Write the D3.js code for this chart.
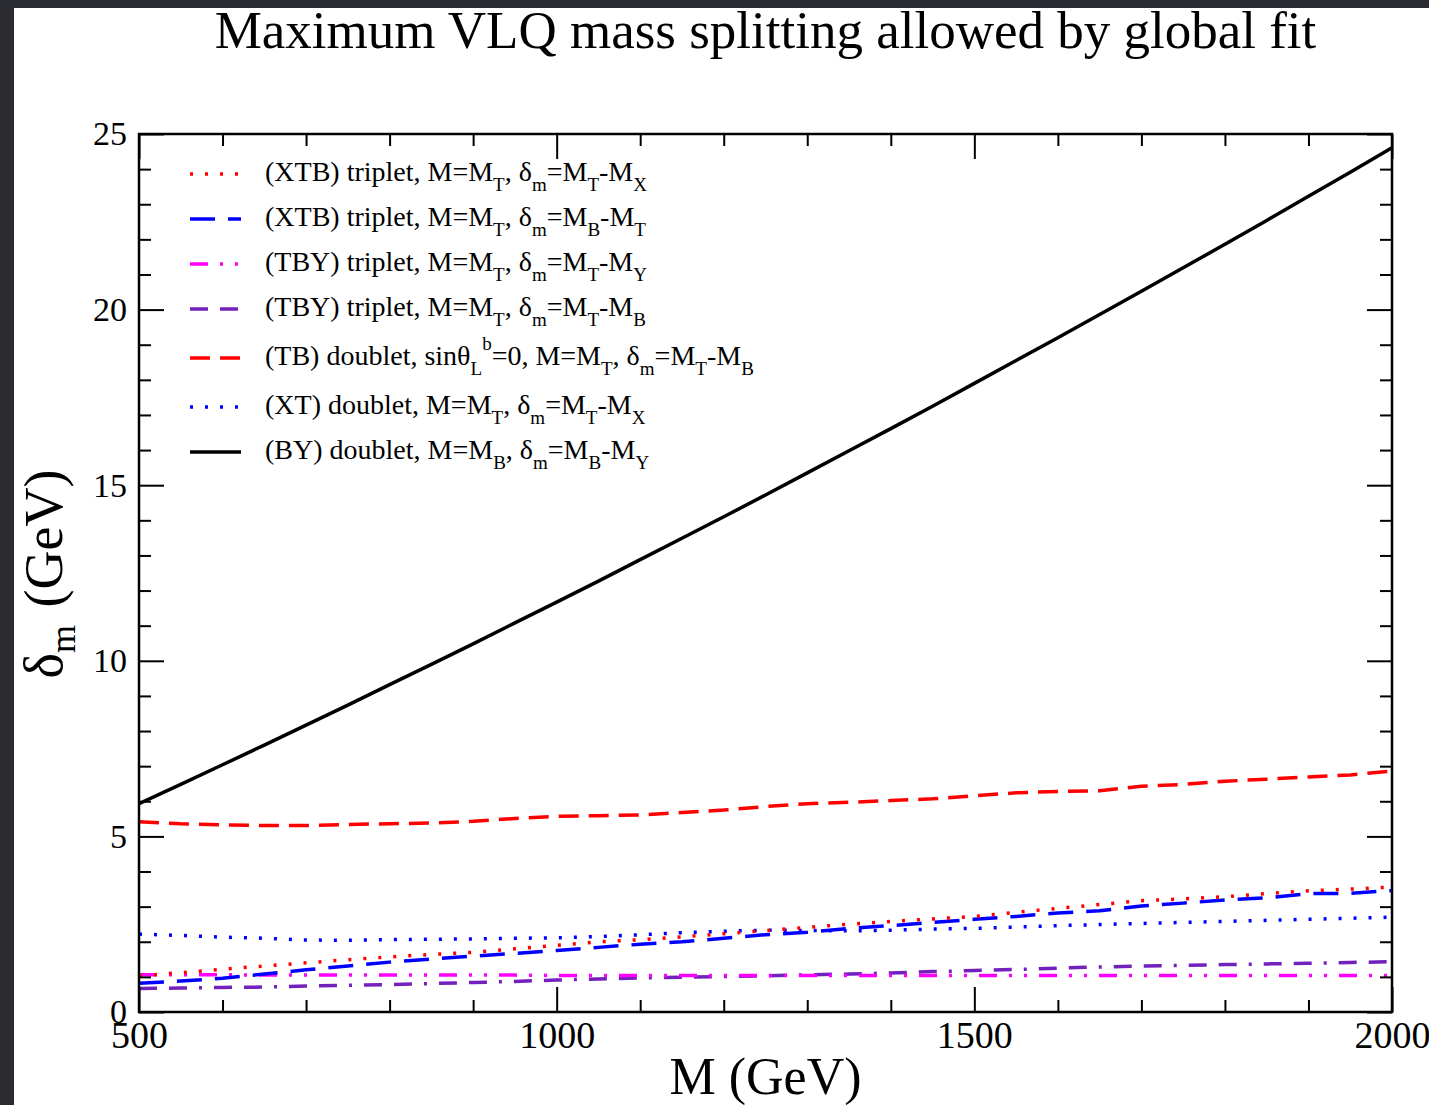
<!DOCTYPE html>
<html>
<head>
<meta charset="utf-8">
<script src="https://cdn.jsdelivr.net/npm/d3@7"></script>
<style>
  html, body { margin: 0; padding: 0; background: #2a2c32; }
  svg { display: block; }
</style>
</head>
<body>
<div id="chart"></div>
<script>
// masses in GeV, mass splittings in GeV
const masses = [500, 550, 600, 650, 700, 750, 800, 850, 900, 950, 1000, 1050, 1100, 1150, 1200, 1250,
  1300, 1350, 1400, 1450, 1500, 1550, 1600, 1650, 1700, 1750, 1800, 1850, 1900, 1950, 2000];

const xtbTX = [1.03, 1.12, 1.22, 1.31, 1.40, 1.49, 1.57, 1.64, 1.70, 1.80, 1.90, 2.00, 2.06, 2.14, 2.23, 2.32,
  2.41, 2.50, 2.58, 2.65, 2.72, 2.84, 2.95, 3.06, 3.17, 3.22, 3.28, 3.37, 3.45, 3.50, 3.56];
const xtbBT = [0.82, 0.88, 0.96, 1.08, 1.20, 1.31, 1.42, 1.51, 1.59, 1.67, 1.75, 1.84, 1.93, 2.00, 2.10, 2.20,
  2.27, 2.38, 2.46, 2.55, 2.64, 2.72, 2.82, 2.88, 3.02, 3.10, 3.19, 3.25, 3.37, 3.38, 3.46];
const tbyTY = [1.06, 1.06, 1.06, 1.05, 1.05, 1.05, 1.05, 1.05, 1.05, 1.05, 1.04, 1.04, 1.04, 1.04, 1.04, 1.04,
  1.04, 1.04, 1.04, 1.04, 1.04, 1.04, 1.04, 1.04, 1.04, 1.04, 1.04, 1.04, 1.04, 1.04, 1.04];
const tbyTB = [0.67, 0.68, 0.70, 0.71, 0.74, 0.76, 0.78, 0.81, 0.84, 0.87, 0.91, 0.94, 0.97, 0.99, 1.01, 1.03,
  1.06, 1.08, 1.11, 1.15, 1.18, 1.21, 1.25, 1.28, 1.31, 1.33, 1.35, 1.37, 1.39, 1.41, 1.43];
const tbDoublet = [5.42, 5.36, 5.33, 5.31, 5.31, 5.34, 5.36, 5.38, 5.43, 5.51, 5.57, 5.59, 5.61, 5.68, 5.75, 5.85,
  5.93, 5.97, 6.02, 6.07, 6.16, 6.24, 6.28, 6.30, 6.43, 6.48, 6.57, 6.63, 6.69, 6.75, 6.86];
const xtDoublet = [2.22, 2.18, 2.13, 2.10, 2.05, 2.04, 2.06, 2.07, 2.08, 2.10, 2.11, 2.15, 2.20, 2.26, 2.30, 2.33,
  2.32, 2.31, 2.33, 2.36, 2.38, 2.42, 2.46, 2.49, 2.52, 2.55, 2.58, 2.61, 2.64, 2.67, 2.70];
const byDoublet = [5.93, 6.48, 7.04, 7.60, 8.17, 8.74, 9.32, 9.90, 10.48, 11.08, 11.67, 12.27, 12.88, 13.49, 14.10, 14.72,
  15.35, 15.98, 16.61, 17.25, 17.90, 18.55, 19.20, 19.86, 20.52, 21.19, 21.86, 22.54, 23.23, 23.91, 24.61];

const xMajorTicks = [500, 1000, 1500, 2000];
const xMinorTicks = [600, 700, 800, 900, 1100, 1200, 1300, 1400, 1600, 1700, 1800, 1900];
const yMajorTicks = [0, 5, 10, 15, 20, 25];
const yMinorTicks = [1, 2, 3, 4, 6, 7, 8, 9, 11, 12, 13, 14, 16, 17, 18, 19, 21, 22, 23, 24];

// legend labels: [text, "" | "sub" | "sup"]
const legendLabels = [
  [["(XTB) triplet, M=M", ""], ["T", "sub"], [", δ", ""], ["m", "sub"], ["=M", ""], ["T", "sub"], ["-M", ""], ["X", "sub"]],
  [["(XTB) triplet, M=M", ""], ["T", "sub"], [", δ", ""], ["m", "sub"], ["=M", ""], ["B", "sub"], ["-M", ""], ["T", "sub"]],
  [["(TBY) triplet, M=M", ""], ["T", "sub"], [", δ", ""], ["m", "sub"], ["=M", ""], ["T", "sub"], ["-M", ""], ["Y", "sub"]],
  [["(TBY) triplet, M=M", ""], ["T", "sub"], [", δ", ""], ["m", "sub"], ["=M", ""], ["T", "sub"], ["-M", ""], ["B", "sub"]],
  [["(TB) doublet, sinθ", ""], ["L", "sub"], ["b", "sup"], ["=0, M=M", ""], ["T", "sub"], [", δ", ""], ["m", "sub"], ["=M", ""], ["T", "sub"], ["-M", ""], ["B", "sub"]],
  [["(XT) doublet, M=M", ""], ["T", "sub"], [", δ", ""], ["m", "sub"], ["=M", ""], ["T", "sub"], ["-M", ""], ["X", "sub"]],
  [["(BY) doublet, M=M", ""], ["B", "sub"], [", δ", ""], ["m", "sub"], ["=M", ""], ["B", "sub"], ["-M", ""], ["Y", "sub"]]
];

const series = [
  { values: xtbTX, color: "#ff0000", dash: "3,12" },
  { values: xtbBT, color: "#0000ff", dash: "25,13" },
  { values: tbyTY, color: "#ff00ff", dash: "18,12,3,12,3,12" },
  { values: tbyTB, color: "#7321bd", dash: "18,12,18,12,3,12" },
  { values: tbDoublet, color: "#ff0000", dash: "20,10" },
  { values: xtDoublet, color: "#0000ff", dash: "3,12" },
  { values: byDoublet, color: "#000000", dash: null }
];
const legendRowY = [174, 219, 264, 309, 358, 407, 452];

const width = 1429, height = 1105;
const plotLeft = 139, plotRight = 1392, plotTop = 134, plotBottom = 1012;
const serif = "'Liberation Serif', 'Times New Roman', serif";

const svg = d3.select("#chart").append("svg")
  .attr("width", width)
  .attr("height", height);

svg.append("rect")
  .attr("x", 14).attr("y", 8)
  .attr("width", width - 14).attr("height", height - 8)
  .attr("fill", "#ffffff");

const x = d3.scaleLinear().domain([500, 2000]).range([plotLeft, plotRight]);
const y = d3.scaleLinear().domain([0, 25]).range([plotBottom, plotTop]);

svg.append("clipPath").attr("id", "plotClip")
  .append("rect")
  .attr("x", plotLeft).attr("y", plotTop)
  .attr("width", plotRight - plotLeft).attr("height", plotBottom - plotTop);

/* CURVES */
const line = d3.line()
  .x((d) => x(d[0]))
  .y((d) => y(d[1]));

const curves = svg.append("g").attr("clip-path", "url(#plotClip)");
series.slice().reverse().forEach((s) => {
  curves.append("path")
    .datum(masses.map((m, i) => [m, s.values[i]]))
    .attr("d", line)
    .attr("fill", "none")
    .attr("stroke", s.color)
    .attr("stroke-width", 3.5)
    .attr("stroke-dasharray", s.dash);
});

/* AXES, ticks inward on all four sides */
function styleAxis(g, size) {
  g.select(".domain").remove();
  g.selectAll(".tick line").attr("stroke", "#000").attr("stroke-width", 2);
  g.selectAll("text")
    .attr("font-family", serif)
    .attr("font-size", size)
    .attr("fill", "#000");
}

svg.append("g").attr("transform", `translate(0,${plotBottom})`)
  .call(d3.axisBottom(x).tickValues(xMinorTicks).tickSize(-12).tickFormat(""))
  .call((g) => styleAxis(g, 0));
svg.append("g").attr("transform", `translate(0,${plotBottom})`)
  .call(d3.axisBottom(x).tickValues(xMajorTicks).tickSize(-25).tickPadding(9).tickFormat(d3.format("d")))
  .call((g) => styleAxis(g, 38));

svg.append("g").attr("transform", `translate(0,${plotTop})`)
  .call(d3.axisTop(x).tickValues(xMinorTicks).tickSize(-12).tickFormat(""))
  .call((g) => styleAxis(g, 0));
svg.append("g").attr("transform", `translate(0,${plotTop})`)
  .call(d3.axisTop(x).tickValues(xMajorTicks).tickSize(-25).tickFormat(""))
  .call((g) => styleAxis(g, 0));

svg.append("g").attr("transform", `translate(${plotLeft},0)`)
  .call(d3.axisLeft(y).tickValues(yMinorTicks).tickSize(-12).tickFormat(""))
  .call((g) => styleAxis(g, 0));
svg.append("g").attr("transform", `translate(${plotLeft},0)`)
  .call(d3.axisLeft(y).tickValues(yMajorTicks).tickSize(-25).tickPadding(12).tickFormat(d3.format("d")))
  .call((g) => styleAxis(g, 34));

svg.append("g").attr("transform", `translate(${plotRight},0)`)
  .call(d3.axisRight(y).tickValues(yMinorTicks).tickSize(-12).tickFormat(""))
  .call((g) => styleAxis(g, 0));
svg.append("g").attr("transform", `translate(${plotRight},0)`)
  .call(d3.axisRight(y).tickValues(yMajorTicks).tickSize(-25).tickFormat(""))
  .call((g) => styleAxis(g, 0));

svg.append("rect")
  .attr("x", plotLeft).attr("y", plotTop)
  .attr("width", plotRight - plotLeft).attr("height", plotBottom - plotTop)
  .attr("fill", "none")
  .attr("stroke", "#000")
  .attr("stroke-width", 2.5);

/* TITLES */
svg.append("text")
  .attr("x", (plotLeft + plotRight) / 2).attr("y", 48)
  .attr("text-anchor", "middle")
  .attr("font-family", serif).attr("font-size", 53)
  .text("Maximum VLQ mass splitting allowed by global fit");

svg.append("text")
  .attr("x", (plotLeft + plotRight) / 2).attr("y", 1094)
  .attr("text-anchor", "middle")
  .attr("font-family", serif).attr("font-size", 52)
  .text("M (GeV)");

const yLabel = svg.append("text")
  .attr("transform", "translate(62,574) rotate(-90)")
  .attr("text-anchor", "middle")
  .attr("font-family", serif).attr("font-size", 54);
yLabel.append("tspan").text("δ");
yLabel.append("tspan").attr("font-size", 36).attr("dy", 13).text("m");
yLabel.append("tspan").attr("dy", -13).attr("dx", 4).text(" (GeV)");

/* LEGEND */
const legend = svg.append("g");
series.forEach((s, i) => {
  const ry = legendRowY[i];
  legend.append("line")
    .attr("x1", 190).attr("x2", 241)
    .attr("y1", ry).attr("y2", ry)
    .attr("stroke", s.color)
    .attr("stroke-width", 3.5)
    .attr("stroke-dasharray", s.dash);

  const t = legend.append("text")
    .attr("x", 265).attr("y", ry + 7)
    .attr("font-family", serif).attr("font-size", 28);
  let shift = 0;
  legendLabels[i].forEach(([txt, kind]) => {
    const target = kind === "sub" ? 10 : kind === "sup" ? -15 : 0;
    t.append("tspan")
      .attr("dy", target - shift)
      .attr("font-size", kind ? 19 : 28)
      .text(txt);
    shift = target;
  });
});
</script>
</body>
</html>
